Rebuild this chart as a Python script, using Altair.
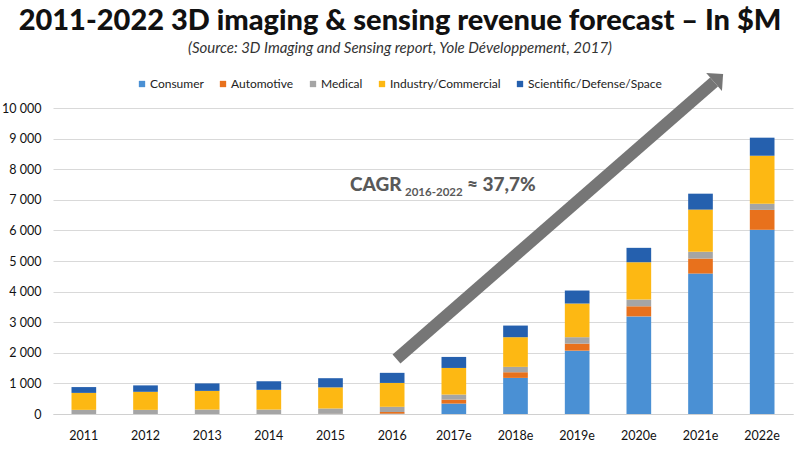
import altair as alt
import pandas as pd

years = ["2011", "2012", "2013", "2014", "2015", "2016",
         "2017e", "2018e", "2019e", "2020e", "2021e", "2022e"]
series = ["Consumer", "Automotive", "Medical", "Industry/Commercial", "Scientific/Defense/Space"]
consumer = [0, 0, 0, 0, 0, 10, 340, 1180, 2070, 3190, 4590, 6020]
automotive = [0, 0, 0, 0, 5, 55, 130, 185, 230, 330, 490, 650]
medical = [135, 135, 145, 145, 175, 170, 165, 175, 210, 220, 220, 200]
industry = [555, 590, 610, 645, 690, 780, 870, 970, 1100, 1220, 1380, 1570]
scientific = [190, 210, 245, 280, 300, 330, 360, 380, 425, 470, 520, 590]
colors = ["#4A90D4", "#E8711C", "#A5A5A5", "#FDB813", "#2560AE"]

# annotation (in data units: x = bar index 0..12, y = $M)
arrow_start = [5.57, 1797]
arrow_end = [10.72, 10850]
cagr_big_text = ["CAGR", "≈ 37,7%"]
cagr_big_idx = [4.816, 6.713]
cagr_big_val = [7288, 7288]
cagr_sub_text = ["2016-2022"]
cagr_sub_idx = [5.708]
cagr_sub_val = [7124]

rows = []
for i, y in enumerate(years):
    for j, (s, vals) in enumerate(zip(series, [consumer, automotive, medical, industry, scientific])):
        rows.append({"year": y, "series": s, "value": vals[i], "order": j})
df = pd.DataFrame(rows)

FONT = "Lato"

y_axis = alt.Axis(values=list(range(0, 10001, 1000)), ticks=False, domain=False,
                  labelPadding=12, labelFontSize=12.5, labelFont=FONT,
                  labelColor="#111111", gridColor="#d9d9d9", labelOverlap=False,
                  labelExpr="replace(format(datum.value, ','), ',', ' ')")
yq = alt.Scale(domain=[0, 10000], nice=False)
xq = alt.Scale(domain=[0, 12], nice=False, zero=False)

bars = alt.Chart(df).mark_bar().encode(
    x=alt.X("year:N", sort=years, title=None,
            scale=alt.Scale(paddingInner=0.6, paddingOuter=0.3),
            axis=alt.Axis(labelAngle=0, ticks=False, labelPadding=15, labelFontSize=12.5,
                          labelFont=FONT, labelColor="#111111", domainColor="#d0d0d0",
                          labelBaseline="top")),
    y=alt.Y("value:Q", stack="zero", title=None, scale=yq, axis=y_axis),
    color=alt.Color("series:N", sort=series,
                    scale=alt.Scale(domain=series, range=colors),
                    legend=alt.Legend(orient="none", legendX=83, legendY=-30,
                                      direction="horizontal", title=None,
                                      symbolType="square", symbolSize=40,
                                      symbolStrokeWidth=0, labelFontSize=12,
                                      labelFont=FONT, labelColor="#222222",
                                      columnPadding=13, labelOffset=2, padding=0)),
    order=alt.Order("order:Q"),
)

arrow_df = pd.DataFrame({"x": [arrow_start[0]], "y": [arrow_start[1]],
                         "x2": [arrow_end[0]], "y2": [arrow_end[1]]})
shaft = alt.Chart(arrow_df).mark_rule(strokeWidth=12, color="#767676", strokeCap="butt").encode(
    x=alt.X("x:Q", scale=xq, axis=None),
    y=alt.Y("y:Q", scale=yq, axis=y_axis, title=None),
    x2="x2:Q", y2="y2:Q",
)
head = alt.Chart(arrow_df).mark_point(shape="M0,-1L1,0L-1,0Z", angle=48.9, size=576,
                                      filled=True, color="#767676", opacity=1).encode(
    x=alt.X("x2:Q", scale=xq, axis=None),
    y=alt.Y("y2:Q", scale=yq, axis=y_axis, title=None),
)

big_df = pd.DataFrame({"t": cagr_big_text, "x": cagr_big_idx, "y": cagr_big_val})
sub_df = pd.DataFrame({"t": cagr_sub_text, "x": cagr_sub_idx, "y": cagr_sub_val})
big = alt.Chart(big_df).mark_text(align="left", baseline="alphabetic", fontSize=19,
                                  fontWeight=900, font=FONT, color="#595959").encode(
    x=alt.X("x:Q", scale=xq, axis=None),
    y=alt.Y("y:Q", scale=yq, axis=y_axis, title=None), text="t:N")
sub = alt.Chart(sub_df).mark_text(align="left", baseline="alphabetic", fontSize=11.5,
                                  fontWeight="bold", font=FONT, color="#595959").encode(
    x=alt.X("x:Q", scale=xq, axis=None),
    y=alt.Y("y:Q", scale=yq, axis=y_axis, title=None), text="t:N")

chart = alt.layer(bars, shaft, head, big, sub).resolve_scale(x="independent").properties(
    width=740, height=306,
    autosize=alt.AutoSizeParams(type="none"),
    padding={"left": 53, "top": 108, "right": 7, "bottom": 39},
    title=alt.Title(
        text="2011-2022 3D imaging & sensing revenue forecast – In $M",
        subtitle="(Source: 3D Imaging and Sensing report, Yole Développement, 2017)",
        anchor="middle", fontSize=29, font=FONT, fontWeight=900, color="#111111",
        subtitleFont=FONT, subtitleFontStyle="italic", subtitleFontSize=15,
        subtitleColor="#333333", subtitlePadding=5, offset=17, dx=-23,
    ),
).configure_view(stroke=None)

chart.save("out.html", embed_options={"renderer": "svg", "actions": False})
